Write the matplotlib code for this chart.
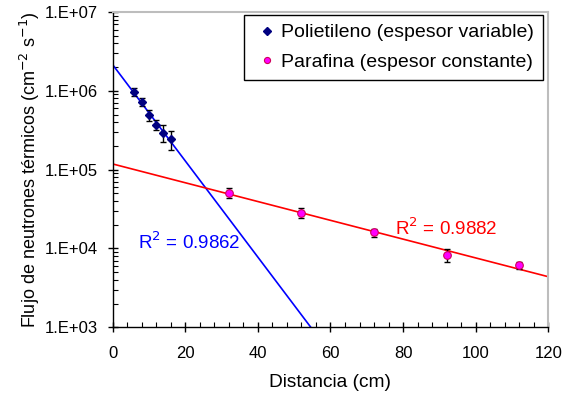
import numpy as np
import matplotlib
matplotlib.use("Agg")
import matplotlib.pyplot as plt
from matplotlib.ticker import FixedLocator, LogLocator, MultipleLocator, NullFormatter

plt.rcParams['font.family'] = ['Liberation Sans', 'DejaVu Sans']

# Data
poli_x = [6, 8, 10, 12, 14, 16]
poli_y = [9.7e5, 7.2e5, 4.9e5, 3.7e5, 2.95e5, 2.45e5]
poli_err = [1.2e5, 8.6e4, 7.8e4, 5.4e4, 7.2e4, 6.7e4]

para_x = [32, 52, 72, 92, 112]
para_y = [5.1e4, 2.86e4, 1.6e4, 8.25e3, 6.1e3]
para_err = [7.5e3, 4.3e3, 1.9e3, 1.6e3, 6.0e2]

ytick_vals = [1e3, 1e4, 1e5, 1e6, 1e7]
ytick_labels = ["1.E+03", "1.E+04", "1.E+05", "1.E+06", "1.E+07"]
xtick_vals = [0, 20, 40, 60, 80, 100, 120]

r2_poli = "0.9862"
r2_para = "0.9882"

fig = plt.figure(figsize=(5.69, 3.94), dpi=100)
ax = fig.add_axes([0.198, 0.1693, 0.7656, 0.8002])

# exponential trend lines
xx = np.linspace(0, 120, 400)
cp = np.polyfit(poli_x, np.log10(poli_y), 1)
cr = np.polyfit(para_x, np.log10(para_y), 1)
ax.plot(xx, 10 ** np.polyval(cp, xx), color='#0000ff', lw=1.2, zorder=2)
ax.plot(xx, 10 ** np.polyval(cr, xx), color='#ff0000', lw=1.2, zorder=2)

ax.errorbar(poli_x, poli_y, yerr=poli_err, fmt='none', ecolor='black', elinewidth=1.0,
            capsize=2.5, capthick=1.0, zorder=3)
ax.errorbar(para_x, para_y, yerr=para_err, fmt='none', ecolor='black', elinewidth=1.0,
            capsize=2.5, capthick=1.0, zorder=3)
ax.plot(poli_x, poli_y, linestyle='none', marker='D', ms=4.5, mfc='#000080', mec='#000080',
        label='Polietileno (espesor variable)', zorder=4)
ax.plot(para_x, para_y, linestyle='none', marker='o', ms=5.5, mfc='#ff00ff', mec='#d0005a',
        mew=0.8, label='Parafina (espesor constante)', zorder=4)

ax.set_yscale('log')
ax.set_xlim(0, 120)
ax.set_ylim(1e3, 1e7)
ax.yaxis.set_major_locator(FixedLocator(ytick_vals))
ax.set_yticklabels(ytick_labels)
ax.yaxis.set_minor_locator(LogLocator(base=10, subs=np.arange(2, 10)))
ax.yaxis.set_minor_formatter(NullFormatter())
ax.set_xticks(xtick_vals)
ax.xaxis.set_minor_locator(MultipleLocator(4))

ax.tick_params(which='major', direction='inout', length=7, width=1, labelsize=12)
ax.tick_params(axis='x', which='major', pad=10)
ax.tick_params(axis='y', which='major', pad=7)
ax.tick_params(which='minor', direction='in', length=3.5, width=0.8)

for s in ['top', 'right']:
    ax.spines[s].set_color('#bdbdbd')
    ax.spines[s].set_linewidth(1.5)
for s in ['left', 'bottom']:
    ax.spines[s].set_color('black')
    ax.spines[s].set_linewidth(1.0)

ax.set_xlabel('Distancia (cm)', fontsize=13.8, labelpad=9)
ax.set_ylabel('Flujo de neutrones térmicos (cm$^{-2}$ s$^{-1}$)', fontsize=13, labelpad=2)

ax.text(7.0, 10 ** (7 - (241.7 - 12) / 78.8), r'R$^{2}$ = ' + r2_poli, color='#0000ff',
        fontsize=13.5, ha='left', va='center')
ax.text(77.8, 10 ** (7 - (228 - 12) / 78.8), r'R$^{2}$ = ' + r2_para, color='#ff0000',
        fontsize=13.5, ha='left', va='center')

leg = ax.legend(loc='upper right', bbox_to_anchor=(0.988, 0.9905), fontsize=14,
                frameon=True, fancybox=False, edgecolor='black', framealpha=1,
                handlelength=1.4, handletextpad=0.05, borderpad=0.45, labelspacing=0.62,
                borderaxespad=0.0, markerscale=0.8)
leg.get_frame().set_linewidth(1.0)

fig.savefig('out.png', dpi=100)
